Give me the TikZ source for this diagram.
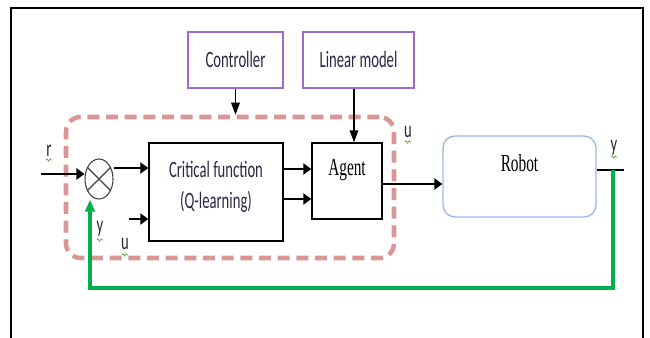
\documentclass[tikz,border=0pt]{standalone}
\usepackage{fontspec}
\usepackage{graphicx}
\setmainfont{Liberation Serif}
\newfontfamily\carl{Carlito}
\usetikzlibrary{shapes.geometric,arrows.meta,decorations.pathmorphing}
\definecolor{purpleC}{RGB}{160,105,200}
\definecolor{dashC}{RGB}{217,150,148}
\definecolor{robotC}{RGB}{150,185,230}
\definecolor{greenC}{RGB}{0,176,80}
\definecolor{sqC}{RGB}{80,170,60}
\definecolor{textC}{RGB}{40,40,70}
\newcommand\vst[1]{\scalebox{1}[1.6]{#1}}
\begin{document}
\begin{tikzpicture}[x=0.75pt,y=-0.75pt,
  pbox/.style={draw=purpleC,line width=1pt,inner sep=0pt},
  blk/.style={draw=black,line width=1.1pt,inner sep=0pt},
  sanst/.style={font=\carl\fontsize{11}{14.5}\selectfont,text=textC,inner sep=0pt},
  serift/.style={font=\fontsize{11.5}{14}\selectfont,text=black,inner sep=0pt},
  lab/.style={font=\carl\fontsize{11}{13}\selectfont,text=black!85,inner sep=0pt},
  arr/.style={-{Triangle[length=6pt,width=8.5pt]},line width=1.1pt},
  varr/.style={-{Triangle[length=9pt,width=6.5pt]},line width=0.9pt},
  squig/.style={draw=sqC,line width=0.5pt,decorate,decoration={snake,amplitude=0.9pt,segment length=2.4pt}}]
\useasboundingbox (0,0) rectangle (650,338);
% outer frame
\draw[line width=1.1pt] (11,338) -- (11,8) -- (643,8) -- (643,338);
% dashed group
\node[draw=dashC,line width=3.4pt,dash pattern=on 9pt off 5pt,rounded corners=11pt,
  minimum width=246pt,minimum height=105.75pt,inner sep=0pt] (grp) at (230,187.5) {};
% top boxes
\node[pbox,minimum width=71.25pt,minimum height=42pt] (ctrl) at (235.5,60) {};
\node[sanst] (ctrlT) at (235.5,59) {\vst{Controller}};
\node[pbox,minimum width=83.25pt,minimum height=42pt] (lin) at (358.5,60) {};
\node[sanst] (linT) at (358.5,59) {\vst{Linear model}};
% critical function
\node[blk,fill=white,minimum width=100.5pt,minimum height=73.5pt] (crit) at (216,192) {};
\node[sanst] (critT) at (216,186.5) {\vst{\begin{tabular}{@{}c@{}}Critical function\\(Q-learning)\end{tabular}}};
% agent
\node[blk,fill=white,minimum width=52.5pt,minimum height=57pt] (agent) at (347,181) {};
\node[serift] (agentT) at (347,170) {\vst{Agent}};
% robot
\node[draw=robotC,line width=1pt,rounded corners=9pt,minimum width=114.75pt,minimum height=60.75pt,inner sep=0pt] (robot) at (519.5,176.5) {};
\node[serift] (robotT) at (519.5,163) {\vst{Robot}};
% summing junction
\node[ellipse,draw=black!75,line width=0.8pt,minimum width=21pt,minimum height=30pt,inner sep=0pt] (sum) at (99,179) {};
\draw[black!75,line width=0.8pt] (sum.45) -- (sum.225) (sum.135) -- (sum.315);
% coordinates
\coordinate (rin) at (41,174);
\coordinate (uin) at (129,219);
\coordinate (lx) at (354,0);
\coordinate (yo) at (624,170);
\coordinate (fb1) at (613,170);
\coordinate (fb2) at (613,288);
\coordinate (fb3) at (90,288);
% connectors
\draw[arr] (rin) -- (sum.west |- rin);
\draw[arr] (sum.east |- 0,168) -- (crit.west |- 0,168);
\draw[arr] (uin) -- (crit.west |- uin);
\draw[arr] (crit.east |- 0,169) -- (agent.west |- 0,169);
\draw[arr] (crit.east |- 0,199) -- (agent.west |- 0,199);
\draw[arr] (agent.east |- 0,184) -- (robot.west |- 0,184);
\draw[varr] (ctrl.south) -- (ctrl.south |- grp.north);
\draw[varr] (lin.south -| lx) -- (agent.north -| lx);
\draw[line width=1.1pt] (robot.east |- yo) -- (yo);
\draw[greenC,line width=2.3pt,-{Triangle[length=9pt,width=7pt]}] (fb1) -- (fb2) -- (fb3) -- (fb3 |- sum.south);
% labels
\node[lab] (lr) at (49,151) {\vst{r}};
\draw[squig] (46,160) -- (52,160);
\node[lab] (lu1) at (408,132) {\vst{u}};
\draw[squig] (405,142) -- (411,142);
\node[lab] (ly1) at (614,148) {\vst{y}};
\draw[squig] (611,157) -- (617,157);
\node[lab] (ly2) at (100,229) {\vst{y}};
\draw[squig] (97,240) -- (103,240);
\node[lab] (lu2) at (125,244) {\vst{u}};
\draw[squig] (122,255) -- (128,255);
\end{tikzpicture}
\end{document}
